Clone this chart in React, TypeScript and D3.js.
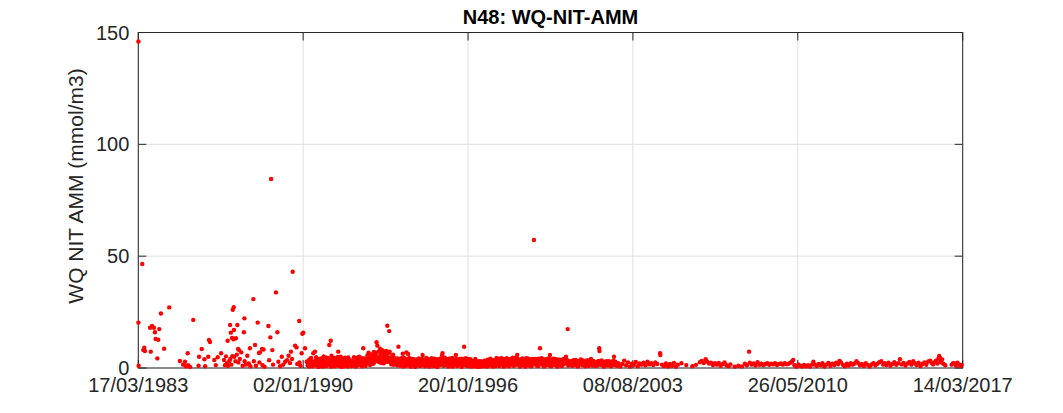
import React from "react";
import * as d3 from "d3";

const chartTitle = "N48: WQ-NIT-AMM";
const yAxisLabel = "WQ NIT AMM (mmol/m3)";
const yTicks = [0, 50, 100, 150];
const xTickDates = ["1983-03-17", "1990-01-02", "1996-10-20", "2003-08-08", "2010-05-26", "2017-03-14"];
const xDomain = ["1983-03-17", "2017-03-14"];
const yDomain = [0, 150];

// [decimal year, value]
const samples1983to1989: [number, number][] = [
  [1983.21, 146], [1983.21, 20.3], [1983.22, 1.0], [1983.37, 46.5], [1983.41, 8.0], [1983.45, 9.1], [1983.48, 7.6],
  [1983.69, 18.0], [1983.72, 7.3], [1983.77, 18.8], [1983.85, 18.0], [1983.89, 16.0], [1983.92, 13.0], [1983.99, 4.3],
  [1984.03, 12.6], [1984.07, 17.4], [1984.14, 24.4], [1984.27, 8.6], [1984.48, 27.1], [1984.92, 3.1], [1985.05, 1.5],
  [1985.13, 2.8], [1985.17, 0.8], [1985.24, 6.6], [1985.26, 1.2], [1985.34, 0.5], [1985.47, 21.5], [1985.69, 1.0],
  [1985.71, 5.0], [1985.82, 8.5], [1985.93, 3.9], [1985.96, 0.8], [1986.09, 5.0], [1986.12, 12.5], [1986.16, 11.6],
  [1986.34, 3.6], [1986.40, 1.3], [1986.48, 4.8], [1986.62, 6.6], [1986.74, 3.6], [1986.78, 1.2], [1986.82, 5.2],
  [1986.86, 2.0], [1986.89, 12.2], [1986.90, 1.0], [1986.95, 3.0], [1986.99, 19.2], [1987.00, 4.0], [1987.02, 15.8],
  [1987.04, 1.5], [1987.07, 13.4], [1987.08, 5.3], [1987.10, 26.0], [1987.13, 12.8], [1987.14, 27.2], [1987.15, 17.0],
  [1987.16, 5.0], [1987.21, 3.0], [1987.23, 13.3], [1987.27, 6.0], [1987.29, 19.2], [1987.32, 8.5], [1987.33, 2.5],
  [1987.36, 8.0], [1987.39, 4.0], [1987.45, 7.0], [1987.51, 1.0], [1987.56, 16.0], [1987.58, 22.2], [1987.59, 3.0],
  [1987.64, 1.5], [1987.70, 5.5], [1987.76, 2.0], [1987.81, 8.8], [1987.83, 0.8], [1987.95, 30.8], [1987.97, 3.0],
  [1988.02, 10.3], [1988.06, 1.0], [1988.13, 20.3], [1988.18, 6.7], [1988.20, 2.5], [1988.22, 7.0], [1988.31, 8.5],
  [1988.33, 1.2], [1988.37, 8.3], [1988.41, 0.6], [1988.57, 18.8], [1988.60, 3.5], [1988.65, 13.7], [1988.68, 84.5],
  [1988.73, 8.0], [1988.76, 1.5], [1988.88, 33.8], [1988.94, 16.0], [1988.98, 2.8], [1989.05, 0.8], [1989.12, 5.0],
  [1989.18, 1.5], [1989.26, 2.8], [1989.34, 3.5], [1989.40, 5.5], [1989.46, 2.2], [1989.50, 7.3], [1989.54, 4.0],
  [1989.57, 43.0], [1989.67, 10.0], [1989.73, 9.2], [1989.76, 1.8], [1989.84, 21.0], [1989.85, 2.5], [1989.89, 1.0],
  [1989.94, 6.6], [1989.97, 15.3], [1990.01, 15.8], [1990.08, 8.8], [1990.15, 2.8],
];

const samples1990to1994: [number, number][] = [
  [1990.19, 1.2], [1990.22, 3.4], [1990.26, 0.6], [1990.30, 2.1], [1990.33, 4.5], [1990.37, 1.5], [1990.40, 0.8],
  [1990.42, 6.6], [1990.45, 2.7], [1990.49, 7.3], [1990.52, 3.6], [1990.56, 1.1], [1990.60, 2.4], [1990.63, 0.5],
  [1990.67, 4.1], [1990.70, 1.8], [1990.74, 3.0], [1990.78, 0.7], [1990.81, 2.2], [1990.85, 5.2], [1990.89, 1.4],
  [1990.92, 3.3], [1990.96, 0.9], [1990.99, 2.6],
  [1991.03, 4.4], [1991.06, 1.7], [1991.08, 10.3], [1991.10, 2.9], [1991.14, 12.2], [1991.15, 0.6], [1991.19, 3.8],
  [1991.23, 1.3], [1991.26, 2.5], [1991.30, 0.8], [1991.34, 4.0], [1991.37, 1.9], [1991.41, 3.1], [1991.45, 7.3],
  [1991.47, 1.0], [1991.51, 2.6], [1991.55, 5.1], [1991.58, 0.5], [1991.62, 3.5], [1991.66, 1.6], [1991.70, 2.3],
  [1991.73, 4.6], [1991.77, 1.1], [1991.81, 2.9], [1991.84, 0.7], [1991.88, 3.9], [1991.92, 1.8], [1991.95, 2.4],
  [1991.99, 0.9],
  [1992.03, 3.2], [1992.06, 1.4], [1992.10, 4.8], [1992.14, 2.0], [1992.17, 0.6], [1992.21, 3.6], [1992.25, 1.2],
  [1992.28, 2.7], [1992.32, 5.0], [1992.36, 1.5], [1992.39, 3.3], [1992.43, 0.8], [1992.48, 8.8], [1992.50, 2.5],
  [1992.54, 4.2], [1992.58, 1.0], [1992.61, 3.7], [1992.65, 5.6], [1992.69, 2.2], [1992.72, 4.4], [1992.76, 1.3],
  [1992.80, 6.1], [1992.83, 3.0], [1992.87, 4.9], [1992.91, 2.0], [1992.94, 5.4], [1992.98, 3.1],
  [1993.02, 6.8], [1993.03, 11.5], [1993.06, 10.0], [1993.08, 4.2], [1993.12, 7.4], [1993.15, 2.6], [1993.19, 5.6],
  [1993.22, 3.4], [1993.26, 8.0], [1993.29, 4.7], [1993.33, 2.1], [1993.37, 6.2], [1993.40, 3.8], [1993.44, 5.5],
  [1993.47, 18.9], [1993.49, 2.8], [1993.53, 6.6], [1993.55, 16.5], [1993.58, 4.1], [1993.62, 2.3], [1993.66, 5.2],
  [1993.69, 3.4], [1993.73, 1.4], [1993.77, 4.5], [1993.80, 2.6], [1993.84, 3.9], [1993.88, 1.2], [1993.93, 9.5],
  [1993.95, 2.9],
  [1994.00, 1.0], [1994.03, 3.6], [1994.07, 2.0], [1994.11, 6.4], [1994.14, 0.7], [1994.18, 3.1], [1994.22, 1.6],
  [1994.26, 7.0], [1994.29, 2.5], [1994.33, 6.3], [1994.36, 1.1], [1994.40, 3.7], [1994.44, 0.6], [1994.47, 2.4],
  [1994.51, 4.1], [1994.55, 1.3], [1994.58, 2.9], [1994.62, 0.5], [1994.66, 3.4], [1994.69, 1.8], [1994.73, 2.6],
  [1994.77, 4.3], [1994.80, 1.0], [1994.84, 2.2], [1994.88, 3.5], [1994.93, 5.8], [1994.95, 1.4], [1994.99, 2.8],
];

const extraSamples1990to1994: [number, number][] = [
  [1990.21, 2.0], [1990.28, 3.9], [1990.35, 1.0], [1990.39, 2.9], [1990.47, 1.6], [1990.54, 4.8], [1990.58, 2.0],
  [1990.65, 2.9], [1990.72, 1.2], [1990.76, 4.3], [1990.83, 3.5], [1990.87, 0.8], [1990.94, 2.1], [1990.97, 4.6],
  [1991.01, 1.5], [1991.12, 2.2], [1991.17, 5.5], [1991.21, 2.6], [1991.28, 4.5], [1991.32, 2.0], [1991.39, 1.2],
  [1991.43, 4.9], [1991.49, 3.6], [1991.53, 1.4], [1991.60, 2.7], [1991.64, 4.1], [1991.68, 0.8], [1991.75, 3.0],
  [1991.79, 1.9], [1991.86, 4.7], [1991.90, 2.6], [1991.97, 3.4],
  [1992.01, 2.2], [1992.08, 2.9], [1992.12, 1.0], [1992.19, 2.4], [1992.23, 4.6], [1992.30, 1.8], [1992.34, 3.5],
  [1992.41, 2.1], [1992.46, 4.4], [1992.52, 1.4], [1992.56, 3.0], [1992.63, 2.4], [1992.67, 4.2], [1992.70, 6.8],
  [1992.74, 3.4], [1992.78, 2.7], [1992.82, 4.6], [1992.85, 1.9], [1992.89, 3.8], [1992.92, 7.2], [1992.96, 4.3],
  [1993.00, 3.2], [1993.04, 5.0], [1993.10, 2.9], [1993.14, 4.6], [1993.17, 8.6], [1993.21, 6.9], [1993.24, 2.2],
  [1993.27, 5.0], [1993.31, 7.1], [1993.35, 3.9], [1993.39, 4.8], [1993.42, 7.6], [1993.46, 3.0], [1993.51, 4.5],
  [1993.57, 7.3], [1993.60, 3.3], [1993.64, 1.6], [1993.68, 4.2], [1993.71, 6.0], [1993.75, 2.8], [1993.79, 3.5],
  [1993.82, 1.7], [1993.86, 2.5], [1993.90, 4.3], [1993.97, 3.6],
  [1994.02, 2.2], [1994.05, 4.4], [1994.09, 1.4], [1994.13, 2.8], [1994.16, 4.6], [1994.20, 2.4], [1994.24, 1.0],
  [1994.28, 3.3], [1994.31, 4.0], [1994.35, 2.6], [1994.38, 4.5], [1994.42, 2.0], [1994.46, 3.2], [1994.49, 1.6],
  [1994.53, 2.5], [1994.57, 3.9], [1994.60, 1.9], [1994.64, 2.3], [1994.68, 1.1], [1994.71, 3.8], [1994.75, 1.5],
  [1994.79, 3.0], [1994.82, 2.6], [1994.86, 1.0], [1994.90, 4.2], [1994.97, 3.6],
];

const samples1995to1999: [number, number][] = [
  [1995.03, 0.8], [1995.06, 3.2], [1995.10, 1.5], [1995.14, 2.7], [1995.17, 4.0], [1995.21, 0.6], [1995.25, 2.3],
  [1995.28, 3.6], [1995.32, 1.2], [1995.36, 2.9], [1995.39, 0.9], [1995.43, 4.2], [1995.47, 1.7], [1995.50, 3.0],
  [1995.54, 0.5], [1995.58, 2.5], [1995.61, 3.9], [1995.65, 1.4], [1995.69, 2.1], [1995.73, 5.5], [1995.75, 6.6],
  [1995.77, 3.3], [1995.80, 1.0], [1995.84, 4.6], [1995.88, 2.4], [1995.91, 1.3], [1995.95, 3.5], [1995.99, 0.7],
  [1996.02, 2.8], [1996.06, 4.3], [1996.10, 1.1], [1996.13, 3.1], [1996.17, 0.6], [1996.21, 2.2], [1996.24, 3.8],
  [1996.28, 1.5], [1996.30, 5.8], [1996.32, 2.6], [1996.35, 0.9], [1996.39, 3.4], [1996.43, 1.8], [1996.46, 4.1],
  [1996.50, 2.0], [1996.54, 0.5], [1996.57, 3.0], [1996.61, 1.4], [1996.64, 9.5], [1996.66, 2.5], [1996.70, 4.4],
  [1996.73, 1.0], [1996.77, 2.7], [1996.81, 0.8], [1996.84, 3.6], [1996.88, 1.6], [1996.92, 2.3], [1996.95, 0.6],
  [1996.99, 3.2],
  [1997.03, 1.2], [1997.06, 2.4], [1997.10, 4.0], [1997.14, 0.7], [1997.17, 1.9], [1997.21, 3.0], [1997.25, 0.5],
  [1997.28, 2.1], [1997.32, 1.3], [1997.36, 2.8], [1997.39, 0.8], [1997.43, 1.7], [1997.47, 3.3], [1997.50, 1.0],
  [1997.54, 2.2], [1997.58, 0.6], [1997.61, 3.7], [1997.65, 1.5], [1997.69, 2.6], [1997.72, 4.2], [1997.76, 1.1],
  [1997.80, 2.9], [1997.83, 0.7], [1997.87, 3.5], [1997.91, 1.8], [1997.94, 2.4], [1997.98, 4.5],
  [1998.02, 1.4], [1998.05, 3.1], [1998.09, 0.9], [1998.13, 2.5], [1998.16, 4.4], [1998.20, 1.6], [1998.24, 3.0],
  [1998.27, 0.6], [1998.31, 2.2], [1998.35, 4.1], [1998.38, 1.3], [1998.42, 3.4], [1998.46, 2.0], [1998.49, 0.8],
  [1998.53, 3.8], [1998.57, 1.7], [1998.60, 2.7], [1998.64, 4.6], [1998.68, 1.0], [1998.71, 3.2], [1998.75, 2.1],
  [1998.79, 4.3], [1998.83, 5.8], [1998.86, 1.5], [1998.90, 3.6], [1998.94, 0.7], [1998.97, 2.8],
  [1999.01, 4.0], [1999.05, 1.2], [1999.08, 3.3], [1999.12, 2.0], [1999.16, 0.6], [1999.19, 3.7], [1999.23, 1.8],
  [1999.27, 2.6], [1999.30, 4.2], [1999.34, 1.1], [1999.38, 2.9], [1999.41, 0.8], [1999.45, 3.5], [1999.49, 1.6],
  [1999.52, 57.2], [1999.54, 2.4], [1999.58, 4.1], [1999.62, 1.3], [1999.65, 2.7], [1999.69, 0.9], [1999.73, 3.6],
  [1999.77, 8.8], [1999.79, 2.1], [1999.83, 4.4], [1999.86, 1.5], [1999.90, 3.0], [1999.94, 0.7], [1999.97, 2.3],
];

const extraSamples1995to1999: [number, number][] = [
  [1995.01, 2.1], [1995.05, 1.6], [1995.08, 4.5], [1995.12, 3.3], [1995.16, 1.1], [1995.19, 2.4], [1995.23, 3.4],
  [1995.27, 1.4], [1995.30, 4.4], [1995.34, 2.0], [1995.38, 3.7], [1995.41, 2.5], [1995.45, 1.0], [1995.49, 3.9],
  [1995.52, 2.1], [1995.56, 3.6], [1995.60, 1.2], [1995.63, 3.0], [1995.67, 4.3], [1995.71, 1.6], [1995.79, 4.0],
  [1995.82, 2.3], [1995.86, 3.0], [1995.90, 4.1], [1995.93, 2.0], [1995.97, 1.5],
  [1996.00, 4.0], [1996.04, 1.9], [1996.08, 3.5], [1996.12, 2.1], [1996.15, 4.5], [1996.19, 1.6], [1996.23, 3.2],
  [1996.26, 2.4], [1996.34, 4.0], [1996.37, 2.2], [1996.41, 1.2], [1996.45, 2.9], [1996.48, 3.3], [1996.52, 1.5],
  [1996.55, 4.2], [1996.59, 2.5], [1996.63, 3.6], [1996.68, 1.4], [1996.72, 3.0], [1996.75, 2.0], [1996.79, 4.1],
  [1996.83, 1.4], [1996.86, 2.6], [1996.90, 3.9], [1996.94, 1.6], [1996.97, 2.2],
  [1997.01, 3.0], [1997.05, 0.9], [1997.08, 3.2], [1997.12, 1.8], [1997.16, 2.6], [1997.19, 1.2], [1997.23, 2.2],
  [1997.27, 1.4], [1997.30, 3.0], [1997.34, 0.8], [1997.38, 1.9], [1997.41, 2.6], [1997.45, 1.2], [1997.49, 2.3],
  [1997.52, 3.1], [1997.56, 1.6], [1997.60, 2.5], [1997.63, 1.0], [1997.67, 3.4], [1997.71, 1.9], [1997.74, 2.5],
  [1997.78, 3.6], [1997.82, 1.5], [1997.85, 2.2], [1997.89, 3.0], [1997.93, 0.9], [1997.96, 3.2],
  [1998.00, 2.8], [1998.04, 2.0], [1998.07, 4.0], [1998.11, 1.8], [1998.15, 3.4], [1998.18, 2.2], [1998.22, 4.2],
  [1998.26, 1.9], [1998.29, 3.6], [1998.33, 1.0], [1998.37, 2.7], [1998.40, 4.4], [1998.44, 2.6], [1998.48, 3.8],
  [1998.51, 1.9], [1998.55, 2.9], [1998.59, 4.1], [1998.62, 1.6], [1998.66, 3.3], [1998.70, 2.4], [1998.73, 4.5],
  [1998.77, 1.4], [1998.81, 3.0], [1998.85, 4.0], [1998.88, 2.2], [1998.92, 3.4], [1998.96, 1.6], [1998.99, 3.6],
  [1999.03, 2.5], [1999.06, 4.3], [1999.10, 1.6], [1999.14, 3.0], [1999.17, 2.3], [1999.21, 4.4], [1999.25, 1.2],
  [1999.29, 3.3], [1999.32, 2.0], [1999.36, 3.8], [1999.40, 1.8], [1999.43, 2.6], [1999.47, 4.0], [1999.51, 2.7],
  [1999.56, 3.2], [1999.60, 1.9], [1999.64, 3.8], [1999.67, 2.0], [1999.71, 4.2], [1999.75, 1.6], [1999.81, 3.3],
  [1999.85, 2.6], [1999.88, 4.0], [1999.92, 1.8], [1999.96, 3.5], [1999.99, 1.2],
];

const samples2000to2004: [number, number][] = [
  [2000.01, 3.9], [2000.05, 1.4], [2000.09, 2.8], [2000.12, 4.3], [2000.16, 1.1], [2000.18, 5.8], [2000.20, 2.5],
  [2000.23, 0.8], [2000.27, 3.4], [2000.31, 1.9], [2000.34, 2.6], [2000.38, 4.0], [2000.42, 1.2], [2000.45, 3.1],
  [2000.49, 0.6], [2000.53, 2.2], [2000.56, 3.7], [2000.60, 1.5], [2000.64, 2.9], [2000.67, 0.9], [2000.71, 3.3],
  [2000.75, 1.7], [2000.78, 4.1], [2000.84, 5.0], [2000.86, 2.4], [2000.91, 17.4], [2000.93, 1.1], [2000.97, 3.0],
  [2000.03, 2.4], [2000.07, 3.6], [2000.10, 1.6], [2000.14, 3.0], [2000.22, 3.8], [2000.25, 1.8], [2000.29, 2.5],
  [2000.33, 4.2], [2000.36, 1.4], [2000.40, 3.0], [2000.44, 2.2], [2000.47, 3.8], [2000.51, 1.6], [2000.55, 3.0],
  [2000.58, 2.0], [2000.62, 3.6], [2000.66, 1.4], [2000.69, 2.6], [2000.73, 4.0], [2000.77, 2.2], [2000.80, 3.0],
  [2000.88, 3.6], [2000.95, 2.0], [2000.99, 1.4],
  [2001.03, 2.6], [2001.09, 1.0], [2001.15, 3.5], [2001.21, 1.8], [2001.27, 2.9], [2001.33, 0.7], [2001.39, 2.2],
  [2001.45, 3.8], [2001.51, 1.3], [2001.57, 2.5], [2001.63, 0.8], [2001.69, 3.1], [2001.75, 1.6], [2001.81, 2.3],
  [2001.87, 4.0], [2001.93, 1.1],
  [2001.06, 3.0], [2001.12, 2.0], [2001.18, 1.2], [2001.24, 3.6], [2001.30, 1.6], [2001.36, 3.0], [2001.42, 1.8],
  [2001.48, 2.6], [2001.54, 3.4], [2001.60, 1.8], [2001.66, 2.4], [2001.72, 3.5], [2001.78, 1.0], [2001.84, 2.8],
  [2001.90, 2.0], [2001.97, 3.2],
  [2002.00, 2.7], [2002.06, 0.9], [2002.12, 1.9], [2002.18, 3.2], [2002.21, 8.8], [2002.22, 7.6], [2002.28, 1.4],
  [2002.34, 2.6], [2002.40, 0.6], [2002.46, 2.0], [2002.52, 3.0], [2002.58, 1.2], [2002.64, 2.4], [2002.70, 0.8],
  [2002.76, 1.7], [2002.82, 5.0], [2002.87, 2.8], [2002.94, 1.0],
  [2002.03, 1.8], [2002.09, 2.6], [2002.15, 1.2], [2002.25, 2.3], [2002.31, 3.4], [2002.37, 1.6], [2002.43, 2.8],
  [2002.49, 1.2], [2002.55, 2.2], [2002.61, 3.0], [2002.67, 1.5], [2002.73, 2.6], [2002.79, 3.3], [2002.85, 1.3],
  [2002.91, 2.4],
  [2003.00, 2.2], [2003.08, 0.7], [2003.16, 1.8], [2003.24, 3.3], [2003.32, 1.2], [2003.40, 2.5], [2003.48, 0.6],
  [2003.56, 1.9], [2003.64, 1.4], [2003.72, 2.7], [2003.80, 0.8], [2003.88, 2.0], [2003.96, 1.5],
  [2004.04, 2.4], [2004.12, 1.2], [2004.20, 2.8], [2004.28, 1.6], [2004.36, 2.1], [2004.44, 1.3], [2004.52, 2.5],
  [2004.60, 1.8], [2004.72, 6.6], [2004.73, 5.8], [2004.80, 1.5], [2004.88, 0.9], [2004.96, 2.0],
];

const samples2005to2010: [number, number][] = [
  [2005.05, 0.7], [2005.13, 1.8], [2005.21, 1.0], [2005.29, 2.3], [2005.37, 0.6], [2005.45, 1.5], [2005.60, 2.1],
  [2005.80, 1.3],
  [2006.05, 0.8], [2006.20, 1.4], [2006.36, 2.6], [2006.44, 3.2], [2006.52, 2.2], [2006.60, 3.9], [2006.66, 2.9],
  [2006.74, 2.0], [2006.82, 2.4], [2006.90, 1.3], [2006.98, 2.1],
  [2007.06, 1.5], [2007.14, 2.3], [2007.22, 1.0], [2007.30, 1.8], [2007.38, 2.5], [2007.46, 1.2], [2007.54, 0.8],
  [2007.62, 1.6], [2007.80, 0.6], [2007.95, 1.0],
  [2008.10, 0.7], [2008.22, 1.9], [2008.30, 1.2], [2008.39, 7.3], [2008.42, 2.4], [2008.50, 1.5], [2008.58, 2.0],
  [2008.66, 1.1], [2008.74, 2.6], [2008.82, 1.4], [2008.90, 1.9], [2008.98, 1.2],
  [2009.06, 1.8], [2009.14, 2.1], [2009.22, 1.4], [2009.30, 1.9], [2009.38, 1.6], [2009.46, 2.2], [2009.54, 1.3],
  [2009.62, 1.8], [2009.70, 2.0], [2009.78, 1.5], [2009.86, 2.1], [2009.94, 1.7],
  [2010.02, 1.9], [2010.10, 2.4], [2010.16, 2.9], [2010.21, 3.6], [2010.26, 1.2], [2010.34, 0.6], [2010.42, 1.6],
  [2010.50, 1.0], [2010.58, 0.7], [2010.66, 1.4], [2010.74, 0.8], [2010.82, 1.2], [2010.90, 0.6], [2010.98, 1.5],
];

const samples2011to2017: [number, number][] = [
  [2011.04, 2.8], [2011.10, 1.6], [2011.18, 0.9], [2011.26, 1.8], [2011.34, 1.2], [2011.42, 2.1], [2011.50, 0.7],
  [2011.58, 1.5], [2011.66, 2.3], [2011.74, 1.0], [2011.82, 1.9], [2011.90, 1.3], [2011.98, 2.4],
  [2012.06, 1.7], [2012.12, 3.1], [2012.18, 2.5], [2012.26, 1.4], [2012.34, 0.8], [2012.42, 1.9], [2012.50, 1.1],
  [2012.58, 2.2], [2012.66, 1.5], [2012.74, 2.0], [2012.82, 3.0], [2012.88, 2.3], [2012.96, 1.2],
  [2013.04, 1.8], [2013.12, 0.9], [2013.20, 2.1], [2013.28, 1.4], [2013.36, 0.7], [2013.44, 1.6], [2013.52, 2.2],
  [2013.60, 1.2], [2013.68, 1.9], [2013.76, 2.6], [2013.84, 3.0], [2013.92, 1.5], [2013.98, 2.2],
  [2014.06, 1.3], [2014.14, 2.4], [2014.22, 1.0], [2014.30, 1.8], [2014.38, 2.6], [2014.46, 1.4], [2014.54, 2.2],
  [2014.61, 3.9], [2014.68, 1.6], [2014.76, 2.3], [2014.84, 1.1], [2014.92, 2.0],
  [2015.00, 2.7], [2015.08, 1.5], [2015.16, 3.0], [2015.22, 2.1], [2015.30, 1.3], [2015.38, 2.4], [2015.46, 0.9],
  [2015.54, 1.8], [2015.62, 2.5], [2015.70, 1.4], [2015.78, 2.9], [2015.86, 3.3], [2015.92, 2.2], [2015.98, 1.6],
  [2016.04, 2.5], [2016.10, 3.3], [2016.16, 2.0], [2016.20, 4.3], [2016.23, 5.4], [2016.26, 4.6], [2016.28, 3.5],
  [2016.31, 2.6], [2016.35, 3.8], [2016.40, 1.9], [2016.48, 1.2], [2016.74, 1.5], [2016.80, 2.2], [2016.86, 2.0],
  [2016.92, 1.1], [2016.98, 2.4],
  [2017.04, 1.6], [2017.10, 0.9], [2017.15, 1.4],
];

const allSamples = [
  ...samples1983to1989,
  ...samples1990to1994,
  ...extraSamples1990to1994,
  ...samples1995to1999,
  ...extraSamples1995to1999,
  ...samples2000to2004,
  ...samples2005to2010,
  ...samples2011to2017,
];

function decimalYearToDate(y: number): Date {
  const yr = Math.floor(y);
  const start = Date.UTC(yr, 0, 1);
  const end = Date.UTC(yr + 1, 0, 1);
  return new Date(start + (y - yr) * (end - start));
}

const W = 1063;
const H = 413;
const M = { left: 138.3, right: 962.7, top: 32.5, bottom: 368 };
const AX = "#262626";
const GRID = "#dfdfdf";
const FONT = "'Liberation Sans', Arial, Helvetica, sans-serif";

export default function App() {
  const parse = d3.utcParse("%Y-%m-%d");
  const x = d3
    .scaleUtc()
    .domain(xDomain.map((d) => parse(d) as Date))
    .range([M.left, M.right]);
  const y = d3.scaleLinear().domain(yDomain).range([M.bottom, M.top]);
  const fmt = d3.utcFormat("%d/%m/%Y");
  const xTicks = xTickDates.map((d) => parse(d) as Date);
  const tickLen = 8;

  return (
    <svg
      width={W}
      height={H}
      style={{ position: "absolute", left: 0, top: 0, background: "#fff" }}
      fontFamily={FONT}
    >
      <rect x={0} y={0} width={W} height={H} fill="#fff" />
      {xTicks.map((t, i) => (
        <line key={"gx" + i} x1={x(t)} x2={x(t)} y1={M.top} y2={M.bottom} stroke={GRID} strokeWidth={1} />
      ))}
      {yTicks.map((v, i) => (
        <line key={"gy" + i} x1={M.left} x2={M.right} y1={y(v)} y2={y(v)} stroke={GRID} strokeWidth={1} />
      ))}
      <rect
        x={M.left}
        y={M.top}
        width={M.right - M.left}
        height={M.bottom - M.top}
        fill="none"
        stroke={AX}
        strokeWidth={1}
      />
      {xTicks.map((t, i) => (
        <g key={"tx" + i}>
          <line x1={x(t)} x2={x(t)} y1={M.bottom} y2={M.bottom - tickLen} stroke={AX} />
          <line x1={x(t)} x2={x(t)} y1={M.top} y2={M.top + tickLen} stroke={AX} />
          <text x={x(t)} y={392} textAnchor="middle" fontSize={20} fill={AX}>
            {fmt(t)}
          </text>
        </g>
      ))}
      {yTicks.map((v, i) => (
        <g key={"ty" + i}>
          <line x1={M.left} x2={M.left + tickLen} y1={y(v)} y2={y(v)} stroke={AX} />
          <line x1={M.right} x2={M.right - tickLen} y1={y(v)} y2={y(v)} stroke={AX} />
          <text x={M.left - 9} y={y(v) + 7} textAnchor="end" fontSize={20} fill={AX}>
            {v}
          </text>
        </g>
      ))}
      {allSamples.map(([t, v], i) => (
        <circle key={"p" + i} cx={x(decimalYearToDate(t))} cy={y(v)} r={2.2} fill="#ff0000" />
      ))}
      <text x={(M.left + M.right) / 2} y={24} textAnchor="middle" fontSize={20} fontWeight="bold" fill="#000">
        {chartTitle}
      </text>
      <text
        transform={`translate(83, 186) rotate(-90)`}
        textAnchor="middle"
        fontSize={21}
        fill={AX}
      >
        {yAxisLabel}
      </text>
    </svg>
  );
}
